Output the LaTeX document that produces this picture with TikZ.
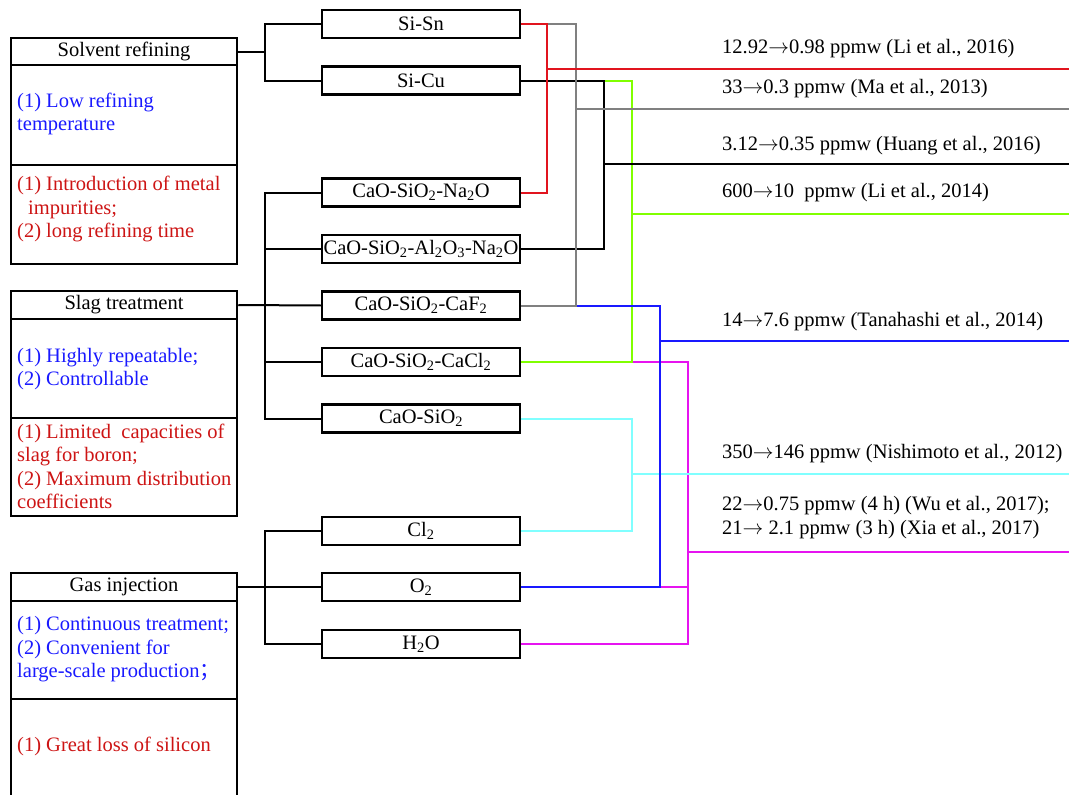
\documentclass[tikz,border=0pt]{standalone}
\usepackage{fontspec}
\setmainfont{Liberation Serif}
\newfontfamily\cjk{Noto Sans CJK SC}
\newcommand{\myarr}{\ensuremath{{\rightarrow}}}
\definecolor{txtblue}{RGB}{25,25,255}
\definecolor{txtred}{RGB}{205,20,20}
\definecolor{lred}{RGB}{225,20,30}
\definecolor{lgray}{RGB}{128,128,128}
\definecolor{lgreen}{RGB}{128,255,0}
\definecolor{lcyan}{RGB}{128,255,255}
\definecolor{lblue}{RGB}{25,25,255}
\definecolor{lmag}{RGB}{230,20,240}
\begin{document}
\begin{tikzpicture}[x=1pt,y=-1pt,
 every node/.style={font=\fontsize{20.5}{23.5}\selectfont},
 hbox/.style={draw, line width=2.5pt, minimum width=226pt, inner sep=0pt},
 mbox/.style={draw, line width=2.5pt, minimum width=198pt, minimum height=28pt, inner sep=0pt},
 btxt/.style={text=txtblue, align=left, anchor=west, inner sep=0pt},
 rtxt/.style={text=txtred, align=left, anchor=west, inner sep=0pt},
 res/.style={anchor=west, inner sep=0pt, align=left},
 conn/.style={line width=2pt},
]
\useasboundingbox (0,0) rectangle (1069,795);

% left boxes
\node[hbox, minimum height=27pt] (sr) at (124,51.5) {Solvent refining};
\node[hbox, minimum height=100pt] (srp) at (124,115) {};
\node[hbox, minimum height=99pt] (src) at (124,214.5) {};
\node[btxt] (srpt) at (17,114) {(1) Low refining\\temperature};
\node[rtxt] (srct) at (17,209) {(1) Introduction of metal\\\hspace*{11pt}impurities;\\(2) long refining time};

\node[hbox, minimum height=28pt] (st) at (124,305) {Slag treatment};
\node[hbox, minimum height=99pt] (stp) at (124,368.5) {};
\node[hbox, minimum height=98pt] (stc) at (124,467) {};
\node[btxt] (stpt) at (17,369) {(1) Highly repeatable;\\(2) Controllable};
\node[rtxt] (stct) at (17,466.5) {(1) Limited\ \ capacities of\\slag for boron;\\(2) Maximum distribution\\coefficients};

\node[hbox, minimum height=28pt] (gi) at (124,587) {Gas injection};
\node[hbox, minimum height=98pt] (gip) at (124,650) {};
\node[hbox, minimum height=98pt] (gic) at (124,748) {};
\node[btxt] (gipt) at (17,649.5) {(1) Continuous treatment;\\(2) Convenient for\\large-scale production{\cjk ；}};
\node[rtxt] (gict) at (17,746) {(1) Great loss of silicon};

% middle boxes
\node[mbox] (sisn) at (421,24) {Si-Sn};
\node[mbox] (sicu) at (421,80.5) {Si-Cu};
\node[mbox] (na2o) at (421,192.5) {CaO-SiO\textsubscript{2}-Na\textsubscript{2}O};
\node[mbox] (al2o3) at (421,249) {CaO-SiO\textsubscript{2}-Al\textsubscript{2}O\textsubscript{3}-Na\textsubscript{2}O};
\node[mbox] (caf2) at (421,305.5) {CaO-SiO\textsubscript{2}-CaF\textsubscript{2}};
\node[mbox] (cacl2) at (421,362) {CaO-SiO\textsubscript{2}-CaCl\textsubscript{2}};
\node[mbox] (cao) at (421,418.5) {CaO-SiO\textsubscript{2}};
\node[mbox] (cl) at (421,531) {Cl\textsubscript{2}};
\node[mbox] (otwo) at (421,587) {O\textsubscript{2}};
\node[mbox] (hto) at (421,644) {H\textsubscript{2}O};

% left brackets
\coordinate (b1) at (265,51.5);
\coordinate (b2) at (265,305.5);
\coordinate (b3) at (265,587);
\draw[conn] (sr.east) -- (b1);
\draw[conn] (sisn.west) -| (b1) |- (sicu.west);
\draw[conn] (st.east) -- (caf2.west);
\draw[conn] (na2o.west) -| (b2) |- (cao.west);
\draw[conn] (al2o3.west) -- (al2o3.west -| b2);
\draw[conn] (cacl2.west) -- (cacl2.west -| b2);
\draw[conn] (gi.east) -- (otwo.west);
\draw[conn] (cl.west) -| (b3) |- (hto.west);

% right buses
\coordinate (magbus) at (688,500);
\coordinate (magout) at (688,552);
\coordinate (magend) at (1070,552);
\coordinate (greenbus) at (632,200);
\coordinate (greenout) at (632,214);
\coordinate (greenend) at (1070,214);
\coordinate (blackbus) at (604,150);
\coordinate (blackout) at (604,164);
\coordinate (blackend) at (1070,164);
\coordinate (cyanbus) at (632,470);
\coordinate (cyanout) at (632,474);
\coordinate (cyanend) at (1070,474);
\coordinate (bluebus) at (660,400);
\coordinate (blueout) at (660,341);
\coordinate (blueend) at (1070,341);
\coordinate (graybus) at (576,150);
\coordinate (grayout) at (576,109);
\coordinate (grayend) at (1070,109);
\coordinate (redbus) at (547,100);
\coordinate (redout) at (547,69);
\coordinate (redend) at (1070,69);

\draw[conn, lmag] (cacl2.east) -| (magbus) |- (hto.east);
\draw[conn, lmag] (otwo.east) -- (otwo.east -| magbus);
\draw[conn, lmag] (magout) -- (magend);

\draw[conn, lgreen] (sicu.east) -| (greenbus) |- (cacl2.east);
\draw[conn, lgreen] (greenout) -- (greenend);

\draw[conn, black] (sicu.east) -| (blackbus) |- (al2o3.east);
\draw[conn, black] (blackout) -- (blackend);

\draw[conn, lcyan] (cao.east) -| (cyanbus) |- (cl.east);
\draw[conn, lcyan] (cyanout) -- (cyanend);

\draw[conn, lblue] (caf2.east) -| (bluebus) |- (otwo.east);
\draw[conn, lblue] (blueout) -- (blueend);

\draw[conn, lgray] (sisn.east) -| (graybus) |- (caf2.east);
\draw[conn, lgray] (grayout) -- (grayend);

\draw[conn, lred] (sisn.east) -| (redbus) |- (na2o.east);
\draw[conn, lred] (redout) -- (redend);

% results
\node[res] (r1) at (722,49) {12.92\myarr0.98 ppmw (Li et al., 2016)};
\node[res] (r2) at (722,89) {33\myarr0.3 ppmw (Ma et al., 2013)};
\node[res] (r3) at (722,146) {3.12\myarr0.35 ppmw (Huang et al., 2016)};
\node[res] (r4) at (722,193) {600\myarr10\ \ ppmw (Li et al., 2014)};
\node[res] (r5) at (722,322) {14\myarr7.6 ppmw (Tanahashi et al., 2014)};
\node[res] (r6) at (722,454) {350\myarr146 ppmw (Nishimoto et al., 2012)};
\node[res] (r7) at (722,517.5) {22\myarr0.75 ppmw (4 h) (Wu et al., 2017);\\21\myarr\ 2.1 ppmw (3 h) (Xia et al., 2017)};
\end{tikzpicture}
\end{document}
